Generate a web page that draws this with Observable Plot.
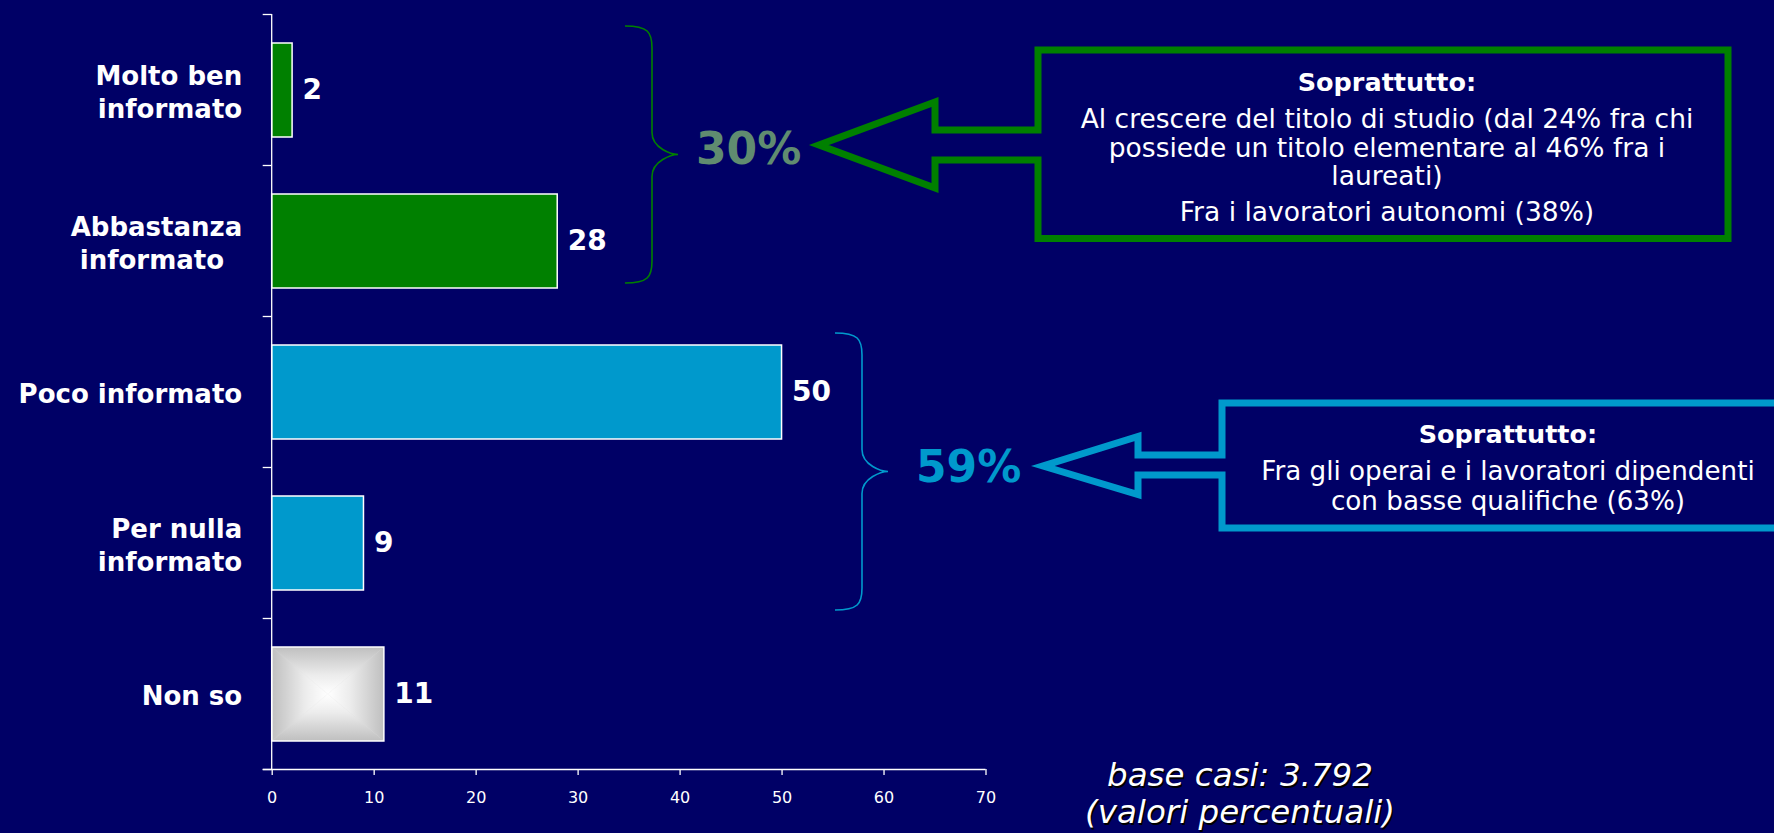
<!DOCTYPE html>
<html>
<head>
<meta charset="utf-8">
<script src="https://cdn.jsdelivr.net/npm/d3@7"></script>
<script src="https://cdn.jsdelivr.net/npm/@observablehq/plot@0.6"></script>
<style>
  html, body { margin: 0; padding: 0; background: #000066; }
  svg { display: block; }
</style>
</head>
<body>
<div id="chart"></div>
<script>
// ---- data ----
const categories = ["Molto ben informato", "Abbastanza informato", "Poco informato", "Per nulla informato", "Non so"];
const values = [2, 28, 50, 9, 11];
const groups = ["informati", "informati", "non informati", "non informati", "non so"];
const tickLabels = ["Molto ben\ninformato", "Abbastanza\ninformato\u00a0\u00a0", "Poco informato", "Per nulla\ninformato", "Non so"];
const xTicks = [0, 10, 20, 30, 40, 50, 60, 70];
const groupTotals = ["30%", "59%"];
const calloutTitle = "Soprattutto:";
const calloutGreen = ["Al crescere del titolo di studio (dal 24% fra chi", "possiede un titolo elementare al 46% fra i", "laureati)", "Fra i lavoratori autonomi (38%)"];
const calloutCyan = ["Fra gli operai e i lavoratori dipendenti", "con basse qualifiche (63%)"];
const footer = ["base casi: 3.792", "(valori percentuali)"];

const GREEN = "#008000", CYAN = "#0099CC", BG = "#000066";
const data = categories.map((c, i) => ({category: c, value: values[i], group: groups[i], label: tickLabels[i]}));

const chart = Plot.plot({
  width: 1774,
  height: 833,
  marginLeft: 271.7,
  marginRight: 788.5,
  marginTop: 14,
  marginBottom: 64,
  style: {background: BG, color: "white", fontFamily: "DejaVu Sans", overflow: "visible"},
  x: {domain: [0, 70], axis: null},
  y: {domain: categories, paddingInner: 0.38, paddingOuter: 0.19, axis: null},
  color: {domain: ["informati", "non informati"], range: [GREEN, CYAN]},
  marks: [
    Plot.barX(data.filter(d => d.group !== "non so"), {x: "value", y: "category", fill: "group", stroke: "white", strokeWidth: 1.5}),
    Plot.barX(data.filter(d => d.group === "non so"), {x: "value", y: "category", fill: "url(#nonso-pat)", stroke: "white", strokeWidth: 1.5}),
    Plot.text(data, {x: "value", y: "category", text: d => String(d.value), dx: 10, textAnchor: "start", fill: "white", fontSize: 28, fontWeight: "bold"}),
    Plot.text(data, {y: "category", text: "label", frameAnchor: "left", dx: -30, textAnchor: "end", fill: "white", fontSize: 26, fontWeight: "bold", lineHeight: 1.27}),
    Plot.axisX(xTicks, {anchor: "bottom", label: null, tickSize: 6, tickPadding: 16, fontSize: 16, stroke: "white", strokeWidth: 1.3, fill: "white", tickFormat: d => String(d)})
  ]
});
document.getElementById("chart").appendChild(chart);

// ---- decorations ----
const svg = d3.select(chart);
const xs = chart.scale("x"), ys = chart.scale("y");
const x0 = xs.apply(0), x70 = xs.apply(70);
const bounds = categories.map(c => ys.apply(c) + ys.bandwidth / 2 - ys.step / 2);
bounds.push(bounds[bounds.length - 1] + ys.step);

// rectangular (box) gradient for "Non so": four triangles inside a pattern
const defs = svg.insert("defs", ":first-child");
const dirs = [
  {id: "gt", x1: 0, y1: 0, x2: 0, y2: 1, pts: "0,0 1,0 0.5,0.5"},
  {id: "gb", x1: 0, y1: 1, x2: 0, y2: 0, pts: "0,1 1,1 0.5,0.5"},
  {id: "gl", x1: 0, y1: 0, x2: 1, y2: 0, pts: "0,0 0,1 0.5,0.5"},
  {id: "gr", x1: 1, y1: 0, x2: 0, y2: 0, pts: "1,0 1,1 0.5,0.5"}
];
dirs.forEach(dd => {
  const lg = defs.append("linearGradient").attr("id", dd.id).attr("x1", dd.x1).attr("y1", dd.y1).attr("x2", dd.x2).attr("y2", dd.y2);
  lg.append("stop").attr("offset", "0%").attr("stop-color", "#bfbfbf");
  lg.append("stop").attr("offset", "60%").attr("stop-color", "#ececec");
  lg.append("stop").attr("offset", "100%").attr("stop-color", "#ffffff");
});
const pat = defs.append("pattern").attr("id", "nonso-pat").attr("patternUnits", "objectBoundingBox")
  .attr("patternContentUnits", "objectBoundingBox").attr("width", 1).attr("height", 1);
pat.append("rect").attr("width", 1).attr("height", 1).attr("fill", "#dcdcdc");
dirs.forEach(dd => pat.append("polygon").attr("points", dd.pts).attr("fill", `url(#${dd.id})`));

const g = svg.append("g").attr("text-anchor", "start");
// axes lines
g.append("line").attr("x1", x0).attr("x2", x0).attr("y1", bounds[0] - 0.5).attr("y2", bounds[5]).attr("stroke", "white").attr("stroke-width", 1.3);
g.append("line").attr("x1", x0 - 9).attr("x2", x70).attr("y1", bounds[5]).attr("y2", bounds[5]).attr("stroke", "white").attr("stroke-width", 1.3);
bounds.forEach(b => g.append("line").attr("x1", x0 - 9).attr("x2", x0).attr("y1", b).attr("y2", b).attr("stroke", "white").attr("stroke-width", 1.3));

// braces
function brace(xEnd, xMid, xTip, yTop, yBot, color) {
  const yc = (yTop + yBot) / 2, r = 22;
  const d = `M${xEnd},${yTop} C${xMid - 4},${yTop} ${xMid},${yTop + 6} ${xMid},${yTop + r}` +
    ` L${xMid},${yc - r} C${xMid},${yc - 6} ${xTip - 6},${yc} ${xTip},${yc}` +
    ` C${xTip - 6},${yc} ${xMid},${yc + 6} ${xMid},${yc + r}` +
    ` L${xMid},${yBot - r} C${xMid},${yBot - 6} ${xMid - 4},${yBot} ${xEnd},${yBot}`;
  g.append("path").attr("d", d).attr("fill", "none").attr("stroke", color).attr("stroke-width", 1.6);
}
brace(625, 652, 678, 26, 283, GREEN);
brace(835, 862, 888, 333, 610, CYAN);

// group totals
g.append("text").attr("x", 696).attr("y", 164).attr("text-anchor", "start").attr("fill", "#608C70").attr("font-size", 44).attr("font-weight", "bold").attr("font-family", "DejaVu Sans").text(groupTotals[0]);
g.append("text").attr("x", 916).attr("y", 482).attr("text-anchor", "start").attr("fill", CYAN).attr("font-size", 44).attr("font-weight", "bold").attr("font-family", "DejaVu Sans").text(groupTotals[1]);

// callouts
g.append("path")
  .attr("d", "M1038,50 L1728,50 L1728,238.5 L1038,238.5 L1038,160 L935,160 L935,188 L819,145 L935,102 L935,130 L1038,130 Z")
  .attr("fill", "none").attr("stroke", GREEN).attr("stroke-width", 7).attr("stroke-linejoin", "miter").attr("stroke-miterlimit", 10);
g.append("path")
  .attr("d", "M1800,403 L1222,403 L1222,455 L1138,455 L1138,436.5 L1043,466 L1138,494.5 L1138,475 L1222,475 L1222,528 L1800,528")
  .attr("fill", "none").attr("stroke", CYAN).attr("stroke-width", 7).attr("stroke-linejoin", "miter").attr("stroke-miterlimit", 10);

function txt(x, y, s, size, weight, style) {
  return g.append("text").attr("x", x).attr("y", y).attr("text-anchor", "middle").attr("fill", "white")
    .attr("font-family", "DejaVu Sans").attr("font-size", size).attr("font-weight", weight || "normal")
    .attr("font-style", style || "normal").text(s);
}
txt(1387, 91, calloutTitle, 25.5, "bold");
[128, 157, 185, 221].forEach((y, i) => txt(1387, y, calloutGreen[i], 26.5));
txt(1508, 443, calloutTitle, 25.5, "bold");
[480, 510].forEach((y, i) => txt(1508, y, calloutCyan[i], 26.2));

// footer with shadow
[786, 823].forEach((y, i) => {
  txt(1241.5, y + 1.5, footer[i], 32.5, "normal", "italic").attr("fill", "#000000");
  txt(1240, y, footer[i], 32.5, "normal", "italic");
});
</script>
</body>
</html>
